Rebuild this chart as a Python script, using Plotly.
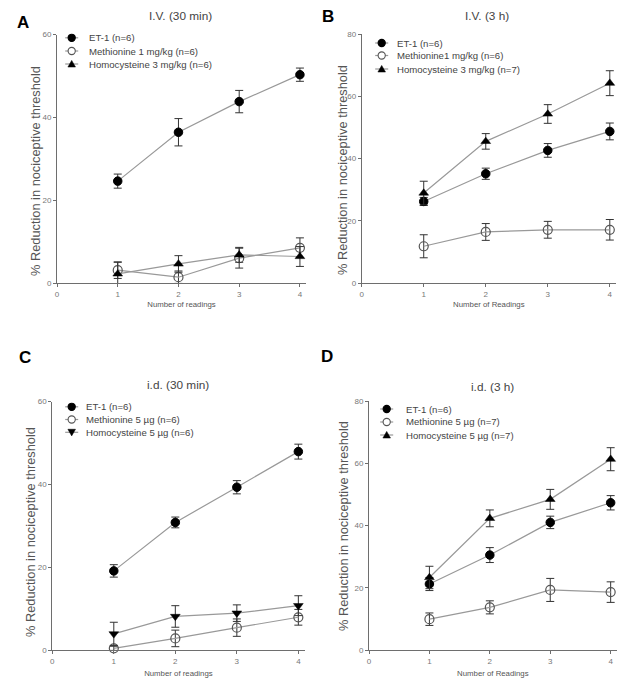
import plotly.graph_objects as go

readings = [1, 2, 3, 4]

# Panel A: I.V. (30 min)
a_et1 = [24.6, 36.4, 43.8, 50.3]
a_et1_err = [1.7, 3.3, 2.7, 1.6]
a_met = [3.1, 1.4, 6.0, 8.5]
a_met_err = [2.0, 1.5, 2.4, 2.4]
a_hcy = [2.2, 4.6, 6.8, 6.4]
a_hcy_err = [2.8, 2.0, 1.8, 2.4]

# Panel B: I.V. (3 h)
b_et1 = [26.2, 35.1, 42.6, 48.7]
b_et1_err = [1.3, 1.8, 2.2, 2.7]
b_met = [11.8, 16.4, 17.1, 17.1]
b_met_err = [3.7, 2.7, 2.7, 3.3]
b_hcy = [28.9, 45.5, 54.3, 64.2]
b_hcy_err = [3.8, 2.5, 3.0, 4.0]

# Panel C: i.d. (30 min)
c_et1 = [19.1, 30.8, 39.3, 47.9]
c_et1_err = [1.5, 1.3, 1.6, 1.8]
c_met = [0.4, 2.8, 5.4, 7.9]
c_met_err = [0.5, 2.0, 2.1, 1.9]
c_hcy = [3.9, 8.1, 8.9, 10.7]
c_hcy_err = [2.8, 2.6, 2.0, 2.4]

# Panel D: i.d. (3 h)
d_et1 = [21.2, 30.5, 41.0, 47.3]
d_et1_err = [2.1, 2.4, 2.0, 2.3]
d_met = [9.9, 13.7, 19.3, 18.6]
d_met_err = [2.0, 2.1, 3.7, 3.3]
d_hcy = [23.3, 42.3, 48.4, 61.3]
d_hcy_err = [3.6, 2.7, 3.2, 3.7]

panel_letters = ["A", "B", "C", "D"]
panel_titles = ["I.V. (30 min)", "I.V. (3 h)", "i.d. (30 min)", "i.d. (3 h)"]
legend_a = ["ET-1 (n=6)", "Methionine 1 mg/kg (n=6)", "Homocysteine 3 mg/kg (n=6)"]
legend_b = ["ET-1 (n=6)", "Methionine1 mg/kg (n=6)", "Homocysteine 3 mg/kg (n=7)"]
legend_c = ["ET-1 (n=6)", "Methionine 5 µg (n=6)", "Homocysteine 5 µg (n=6)"]
legend_d = ["ET-1 (n=6)", "Methionine 5 µg (n=7)", "Homocysteine 5 µg (n=7)"]
xlabels = ["Number of readings", "Number of Readings", "Number of readings", "Number of Readings"]
ylabel = "% Reduction in nociceptive threshold"
x_ticks = [0, 1, 2, 3, 4]
y_ticks_60 = [0, 20, 40, 60]
y_ticks_80 = [0, 20, 40, 60, 80]

FONT = "Liberation Sans, Arial, sans-serif"
LINE = "#999999"
AX = "#6e6e6e"
OFF = 8  # page body margin in the browser
W, H = 632 - OFF, 688 - OFF


def PX(x):
    return (x - OFF) / W


def PY(y):
    return 1 - (y - OFF) / H


fig = go.Figure()

panels = [
    (a_et1, a_et1_err, a_met, a_met_err, a_hcy, a_hcy_err, legend_a, "triangle-up"),
    (b_et1, b_et1_err, b_met, b_met_err, b_hcy, b_hcy_err, legend_b, "triangle-up"),
    (c_et1, c_et1_err, c_met, c_met_err, c_hcy, c_hcy_err, legend_c, "triangle-down"),
    (d_et1, d_et1_err, d_met, d_met_err, d_hcy, d_hcy_err, legend_d, "triangle-up"),
]

# pixel geometry of each panel (screen coords): left, right, top, bottom
px_box = [(57, 306, 34.5, 283), (361.7, 616, 34, 283), (52.3, 304.5, 401.5, 650), (369, 616.7, 401, 650)]
domains_x = [[PX(l), PX(r)] for l, r, t, b in px_box]
domains_y = [[PY(b), PY(t)] for l, r, t, b in px_box]

for i, (et, ete, me, mee, hc, hce, labels, hsym) in enumerate(panels):
    xa = "x" if i == 0 else f"x{i+1}"
    ya = "y" if i == 0 else f"y{i+1}"
    series = [
        (et, ete, labels[0], dict(symbol="circle", size=8.5, color="black", line=dict(color="black", width=1))),
        (me, mee, labels[1], dict(symbol="circle-open", size=9, color="#555555", line=dict(width=1.2))),
        (hc, hce, labels[2], dict(symbol=hsym, size=8.5, color="black", line=dict(color="black", width=0.5))),
    ]
    for vals, errs, name, mk in series:
        fig.add_trace(go.Scatter(
            x=readings, y=vals, name=name, mode="lines+markers",
            xaxis=xa, yaxis=ya, showlegend=False,
            line=dict(color=LINE, width=1.2),
            marker=mk,
            error_y=dict(type="data", array=errs, visible=True, color="#333333", thickness=1, width=4),
            cliponaxis=False,
        ))

layout = dict(
    width=W, height=H,
    margin=dict(l=0, r=0, t=0, b=0),
    paper_bgcolor="white", plot_bgcolor="white",
    font=dict(family=FONT, color="#555555"),
    showlegend=False,
)

ymaxes = [60, 80, 60, 80]
yticks = [y_ticks_60, y_ticks_80, y_ticks_60, y_ticks_80]
xstandoff = [3, 3, 5, 5]
for i in range(4):
    sx = "xaxis" if i == 0 else f"xaxis{i+1}"
    sy = "yaxis" if i == 0 else f"yaxis{i+1}"
    anchor_x = "x" if i == 0 else f"x{i+1}"
    anchor_y = "y" if i == 0 else f"y{i+1}"
    layout[sx] = dict(
        domain=domains_x[i], anchor=anchor_y, range=[0, 4.1], automargin=False,
        tickvals=x_ticks, ticks="outside", ticklen=3, tickcolor=AX, tickwidth=1,
        showline=True, linecolor=AX, linewidth=1, showgrid=False, zeroline=False,
        tickfont=dict(size=8, color="#777777"),
        title=dict(text=xlabels[i], font=dict(size=7.8, color="#555555"), standoff=xstandoff[i]),
    )
    layout[sy] = dict(
        domain=domains_y[i], anchor=anchor_x, range=[0, ymaxes[i]], automargin=False,
        tickvals=yticks[i], ticks="outside", ticklen=3, tickcolor=AX, tickwidth=1,
        showline=True, linecolor=AX, linewidth=1, showgrid=False, zeroline=False,
        tickfont=dict(size=8, color="#777777"),
    )

fig.update_layout(**layout)

# Panel letters, titles and y-axis titles (screen coords)
letter_pos = [(23, 22), (328, 16.5), (25, 358), (327, 357)]
title_pos = [(180, 16.5), (487, 16), (178, 385), (492, 387)]
ytitle_pos = [(35, 171), (342, 170), (30, 532), (343, 526)]
for i in range(4):
    lx, ly = letter_pos[i]
    fig.add_annotation(text=f"<b>{panel_letters[i]}</b>", x=PX(lx), y=PY(ly), xref="paper", yref="paper",
                       showarrow=False, font=dict(size=17, color="black", family=FONT),
                       xanchor="center", yanchor="middle")
    tx, ty = title_pos[i]
    fig.add_annotation(text=panel_titles[i], x=PX(tx), y=PY(ty), xref="paper", yref="paper",
                       showarrow=False, font=dict(size=11.8, color="#444444", family=FONT),
                       xanchor="center", yanchor="middle")
    yx, yy = ytitle_pos[i]
    fig.add_annotation(text=ylabel, x=PX(yx), y=PY(yy), xref="paper", yref="paper", textangle=-90,
                       showarrow=False, font=dict(size=12.8, color="#555555", family=FONT),
                       xanchor="center", yanchor="middle")

# Legends (drawn in paper space): marker x offset, text x offset, row y offsets from panel top
leg_marker_dx = [14.7, 20, 19.4, 17.7]
leg_text_dx = [29.7, 33.3, 32, 35]
leg_rows_dy = [[3.3, 16.5, 29.5], [9, 21.5, 35], [5.3, 18, 30.8], [8, 21, 34]]
legends = [legend_a, legend_b, legend_c, legend_d]
hsyms = ["up", "up", "down", "up"]


def P(x, y):
    return f"{PX(x):.5f} {PY(y):.5f}"


for i in range(4):
    l, r, t, b = px_box[i]
    mx = l + leg_marker_dx[i]
    tx = l + leg_text_dx[i]
    for k in range(3):
        y = t + leg_rows_dy[i][k]
        fig.add_shape(type="line", xref="paper", yref="paper",
                      x0=PX(mx - 6.5), x1=PX(mx + 6.5), y0=PY(y), y1=PY(y),
                      line=dict(color=LINE, width=1.2))
        if k < 2:
            rr = 3.6
            fill = "black" if k == 0 else "white"
            lc = "black" if k == 0 else "#555555"
            fig.add_shape(type="circle", xref="paper", yref="paper",
                          x0=PX(mx - rr), x1=PX(mx + rr), y0=PY(y + rr), y1=PY(y - rr),
                          fillcolor=fill, line=dict(color=lc, width=1.1))
        else:
            s = 3.8
            if hsyms[i] == "up":
                path = f"M{P(mx - s, y + s * 0.8)} L{P(mx + s, y + s * 0.8)} L{P(mx, y - s * 0.95)} Z"
            else:
                path = f"M{P(mx - s, y - s * 0.8)} L{P(mx + s, y - s * 0.8)} L{P(mx, y + s * 0.95)} Z"
            fig.add_shape(type="path", xref="paper", yref="paper", path=path,
                          fillcolor="black", line=dict(color="black", width=0.5))
        fig.add_annotation(text=legends[i][k], x=PX(tx), y=PY(y), xref="paper", yref="paper",
                           showarrow=False, font=dict(size=9.6, color="#444444", family=FONT),
                           xanchor="left", yanchor="middle")

fig.write_html("out.html")
